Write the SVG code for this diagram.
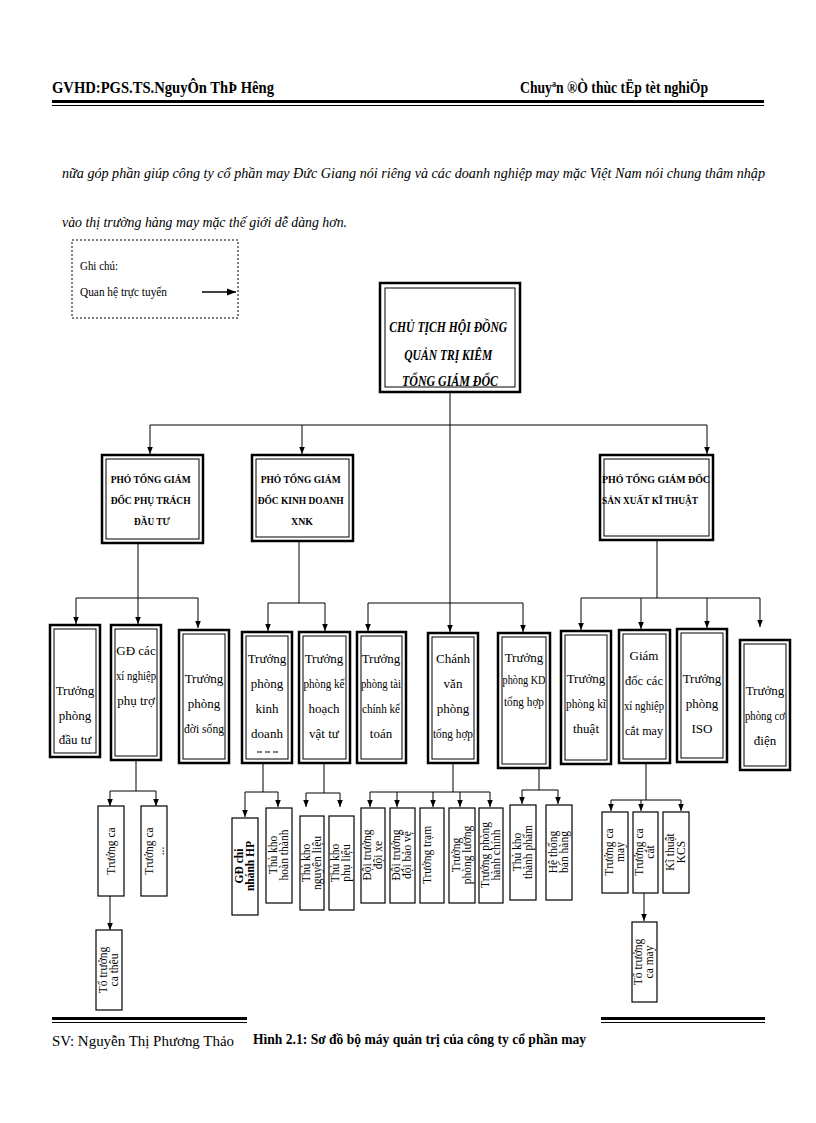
<svg xmlns="http://www.w3.org/2000/svg" width="816" height="1123" viewBox="0 0 816 1123">
<style>
text{font-family:"Liberation Serif","DejaVu Serif",serif;fill:#000}
.o{fill:#fff;stroke:#000;stroke-width:2.5}
.i{fill:none;stroke:#000;stroke-width:1}
.t{fill:#fff;stroke:#000;stroke-width:1.2}
.b3{font-size:13px;text-anchor:middle}
.v{font-size:11.5px;text-anchor:middle}
.c line,.c path{stroke:#000;stroke-width:1;fill:none}
.h{font-weight:bold;font-size:16px}
</style>
<defs>
<marker id="a" viewBox="0 0 10 10" refX="10" refY="5" markerWidth="7" markerHeight="7" orient="auto"><path d="M0,1 L10,5 L0,9 z" fill="#000"/></marker>
</defs>
<!-- header -->
<text x="52" y="93" class="h" textLength="222" lengthAdjust="spacingAndGlyphs">GVHD:PGS.TS.NguyÔn ThÞ Hêng</text>
<text x="520" y="93" class="h" textLength="188" lengthAdjust="spacingAndGlyphs">Chuyªn ®Ò thùc tËp tèt nghiÖp</text>
<rect x="52" y="100" width="712" height="3" fill="#000"/>
<rect x="52" y="105" width="712" height="1" fill="#000"/>
<text x="62" y="178" style="font-family:'Liberation Serif',serif;font-style:italic" font-size="15" textLength="703" lengthAdjust="spacingAndGlyphs">nữa góp phần giúp công ty cổ phần may Đức Giang nói riêng và các doanh nghiệp may mặc Việt Nam nói chung thâm nhập</text>
<text x="62" y="227" style="font-family:'Liberation Serif',serif;font-style:italic" font-size="15" textLength="285" lengthAdjust="spacingAndGlyphs">vào thị trường hàng may mặc thế giới dễ dàng hơn.</text>
<!-- legend -->
<g id="legend">
<rect x="72" y="240" width="166" height="78" fill="none" stroke="#000" stroke-width="1" stroke-dasharray="2,2"/>
<text x="80" y="270" font-size="13" textLength="38" lengthAdjust="spacingAndGlyphs">Ghi chú:</text>
<text x="80" y="296" font-size="13" textLength="87" lengthAdjust="spacingAndGlyphs">Quan hệ trực tuyến</text>
<line x1="202" y1="292" x2="236" y2="292" stroke="#000" stroke-width="1.3" marker-end="url(#a)"/>
</g>
<!-- connectors -->
<g class="c">
<line x1="450" y1="393" x2="450" y2="603"/>
<line x1="150" y1="425" x2="707" y2="425"/>
<line x1="150" y1="425" x2="150" y2="454" marker-end="url(#a)"/>
<line x1="302" y1="425" x2="302" y2="454" marker-end="url(#a)"/>
<line x1="707" y1="425" x2="707" y2="454" marker-end="url(#a)"/>
<line x1="138" y1="543" x2="138" y2="598"/>
<line x1="76" y1="598" x2="198" y2="598"/>
<line x1="76" y1="598" x2="76" y2="624" marker-end="url(#a)"/>
<line x1="138" y1="598" x2="138" y2="624" marker-end="url(#a)"/>
<line x1="198" y1="598" x2="198" y2="628" marker-end="url(#a)"/>
<line x1="299" y1="541" x2="299" y2="603"/>
<line x1="268" y1="603" x2="325" y2="603"/>
<line x1="268" y1="603" x2="268" y2="631" marker-end="url(#a)"/>
<line x1="325" y1="603" x2="325" y2="631" marker-end="url(#a)"/>
<line x1="368" y1="603" x2="523" y2="603"/>
<line x1="368" y1="603" x2="368" y2="631" marker-end="url(#a)"/>
<line x1="450" y1="603" x2="450" y2="632" marker-end="url(#a)"/>
<line x1="523" y1="603" x2="523" y2="632" marker-end="url(#a)"/>
<line x1="657" y1="540" x2="657" y2="598"/>
<line x1="581" y1="598" x2="760" y2="598"/>
<line x1="581" y1="598" x2="581" y2="630" marker-end="url(#a)"/>
<line x1="641" y1="598" x2="641" y2="629" marker-end="url(#a)"/>
<line x1="707" y1="598" x2="707" y2="628" marker-end="url(#a)"/>
<line x1="760" y1="598" x2="760" y2="627" marker-end="url(#a)"/>
<line x1="136" y1="760" x2="136" y2="791"/>
<line x1="110" y1="791" x2="156" y2="791"/>
<line x1="110" y1="791" x2="110" y2="806" marker-end="url(#a)"/>
<line x1="156" y1="791" x2="156" y2="806" marker-end="url(#a)"/>
<line x1="110" y1="896" x2="110" y2="930" marker-end="url(#a)"/>
<line x1="263" y1="763" x2="263" y2="792"/>
<line x1="245" y1="792" x2="278" y2="792"/>
<line x1="245" y1="792" x2="245" y2="817" marker-end="url(#a)"/>
<line x1="278" y1="792" x2="278" y2="807" marker-end="url(#a)"/>
<line x1="324" y1="763" x2="324" y2="793"/>
<line x1="306" y1="793" x2="340" y2="793"/>
<line x1="306" y1="793" x2="306" y2="807" marker-end="url(#a)"/>
<line x1="340" y1="793" x2="340" y2="807" marker-end="url(#a)"/>
<line x1="453" y1="763" x2="453" y2="792"/>
<line x1="370" y1="792" x2="490" y2="792"/>
<line x1="370" y1="792" x2="370" y2="807" marker-end="url(#a)"/>
<line x1="397" y1="792" x2="397" y2="807" marker-end="url(#a)"/>
<line x1="433" y1="792" x2="433" y2="807" marker-end="url(#a)"/>
<line x1="460" y1="792" x2="460" y2="807" marker-end="url(#a)"/>
<line x1="490" y1="792" x2="490" y2="807" marker-end="url(#a)"/>
<line x1="539" y1="768" x2="539" y2="790"/>
<line x1="522" y1="790" x2="558" y2="790"/>
<line x1="522" y1="790" x2="522" y2="804" marker-end="url(#a)"/>
<line x1="558" y1="790" x2="558" y2="804" marker-end="url(#a)"/>
<line x1="646" y1="763" x2="646" y2="800"/>
<line x1="611" y1="800" x2="681" y2="800"/>
<line x1="611" y1="800" x2="611" y2="811" marker-end="url(#a)"/>
<line x1="641" y1="800" x2="641" y2="811" marker-end="url(#a)"/>
<line x1="681" y1="800" x2="681" y2="811" marker-end="url(#a)"/>
<line x1="644" y1="893" x2="644" y2="921" marker-end="url(#a)"/>
</g>
<!-- top node -->
<g id="ceo">
<rect class="o" x="380" y="283" width="140" height="109"/>
<rect class="i" x="385" y="288" width="130" height="99"/>
<text font-style="italic" font-weight="bold" font-size="14" text-anchor="middle">
<tspan x="450" y="332" textLength="118" lengthAdjust="spacingAndGlyphs">CHỦ TỊCH HỘI ĐỒNG</tspan>
<tspan x="450" y="360" textLength="88" lengthAdjust="spacingAndGlyphs">QUẢN TRỊ KIÊM</tspan>
<tspan x="450" y="386" textLength="96" lengthAdjust="spacingAndGlyphs">TỔNG GIÁM ĐỐC</tspan>
</text>
</g>
<!-- level 2 -->
<g id="pho1">
<rect class="o" x="102" y="455" width="101" height="88"/>
<rect class="i" x="106" y="459" width="93" height="80"/>
<text font-weight="bold" font-size="11" text-anchor="middle">
<tspan x="152" y="483" textLength="80" lengthAdjust="spacingAndGlyphs">PHÓ TỔNG GIÁM</tspan>
<tspan x="152" y="504" textLength="80" lengthAdjust="spacingAndGlyphs">ĐỐC PHỤ TRÁCH</tspan>
<tspan x="152" y="525" textLength="36" lengthAdjust="spacingAndGlyphs">ĐẦU TƯ</tspan>
</text>
</g>
<g id="pho2">
<rect class="o" x="252" y="455" width="101" height="86"/>
<rect class="i" x="256" y="459" width="93" height="78"/>
<text font-weight="bold" font-size="11" text-anchor="middle">
<tspan x="302" y="483" textLength="80" lengthAdjust="spacingAndGlyphs">PHÓ TỔNG GIÁM</tspan>
<tspan x="302" y="504" textLength="86" lengthAdjust="spacingAndGlyphs">ĐỐC KINH DOANH</tspan>
<tspan x="302" y="525" textLength="22" lengthAdjust="spacingAndGlyphs">XNK</tspan>
</text>
</g>
<g id="pho3">
<rect class="o" x="600" y="455" width="113" height="85"/>
<rect class="i" x="604" y="459" width="105" height="77"/>
<text font-weight="bold" font-size="11">
<tspan x="602" y="483" textLength="108" lengthAdjust="spacingAndGlyphs">PHÓ TỔNG GIÁM ĐỐC</tspan>
<tspan x="602" y="504" textLength="96" lengthAdjust="spacingAndGlyphs">SẢN XUẤT KĨ THUẬT</tspan>
</text>
</g>
<!-- level 3 -->
<g id="n1"><rect class="o" x="50" y="625" width="50" height="132"/><rect class="i" x="54" y="629" width="42" height="124"/>
<text class="b3"><tspan x="75" y="695">Trưởng</tspan><tspan x="75" y="720">phòng</tspan><tspan x="75" y="744">đầu tư</tspan></text></g>
<g id="n2"><rect class="o" x="111" y="625" width="50" height="135"/><rect class="i" x="115" y="629" width="42" height="127"/>
<text class="b3"><tspan x="136" y="655">GĐ các</tspan><tspan x="136" y="680" textLength="40" lengthAdjust="spacingAndGlyphs">xí nghiệp</tspan><tspan x="136" y="705">phụ trợ</tspan></text></g>
<g id="n3"><rect class="o" x="179" y="630" width="50" height="133"/><rect class="i" x="183" y="634" width="42" height="125"/>
<text class="b3"><tspan x="204" y="683">Trưởng</tspan><tspan x="204" y="708">phòng</tspan><tspan x="204" y="733" textLength="40" lengthAdjust="spacingAndGlyphs">đời sống</tspan></text></g>
<g id="n4"><rect class="o" x="242" y="632" width="50" height="131"/><rect class="i" x="246" y="636" width="42" height="123"/>
<text class="b3"><tspan x="267" y="663">Trưởng</tspan><tspan x="267" y="688">phòng</tspan><tspan x="267" y="713">kinh</tspan><tspan x="267" y="738">doanh</tspan></text>
<line x1="257" y1="752" x2="279" y2="752" stroke="#000" stroke-dasharray="5,3"/></g>
<g id="n5"><rect class="o" x="299" y="632" width="51" height="131"/><rect class="i" x="303" y="636" width="43" height="123"/>
<text class="b3"><tspan x="324" y="663">Trưởng</tspan><tspan x="324" y="688" textLength="41" lengthAdjust="spacingAndGlyphs">phòng kế</tspan><tspan x="324" y="713">hoạch</tspan><tspan x="324" y="738">vật tư</tspan></text></g>
<g id="n6"><rect class="o" x="357" y="632" width="49" height="131"/><rect class="i" x="361" y="636" width="41" height="123"/>
<text class="b3"><tspan x="381" y="663">Trưởng</tspan><tspan x="381" y="688" textLength="40" lengthAdjust="spacingAndGlyphs">phòng tài</tspan><tspan x="381" y="713" textLength="38" lengthAdjust="spacingAndGlyphs">chính kế</tspan><tspan x="381" y="738">toán</tspan></text></g>
<g id="n7"><rect class="o" x="428" y="633" width="50" height="130"/><rect class="i" x="432" y="637" width="42" height="122"/>
<text class="b3"><tspan x="453" y="663">Chánh</tspan><tspan x="453" y="688">văn</tspan><tspan x="453" y="713">phòng</tspan><tspan x="453" y="738" textLength="40" lengthAdjust="spacingAndGlyphs">tổng hợp</tspan></text></g>
<g id="n8"><rect class="o" x="498" y="633" width="52" height="135"/><rect class="i" x="502" y="637" width="44" height="127"/>
<text class="b3"><tspan x="524" y="662">Trưởng</tspan><tspan x="524" y="684" textLength="43" lengthAdjust="spacingAndGlyphs">phòng KD</tspan><tspan x="524" y="706" textLength="40" lengthAdjust="spacingAndGlyphs">tổng hợp</tspan></text></g>
<g id="n9"><rect class="o" x="561" y="631" width="50" height="133"/><rect class="i" x="565" y="635" width="42" height="125"/>
<text class="b3"><tspan x="586" y="683">Trưởng</tspan><tspan x="586" y="708" textLength="40" lengthAdjust="spacingAndGlyphs">phòng kĩ</tspan><tspan x="586" y="733">thuật</tspan></text></g>
<g id="n10"><rect class="o" x="619" y="630" width="51" height="133"/><rect class="i" x="623" y="634" width="43" height="125"/>
<text class="b3"><tspan x="644" y="660">Giám</tspan><tspan x="644" y="685" textLength="38" lengthAdjust="spacingAndGlyphs">đốc các</tspan><tspan x="644" y="710" textLength="40" lengthAdjust="spacingAndGlyphs">xí nghiệp</tspan><tspan x="644" y="735" textLength="38" lengthAdjust="spacingAndGlyphs">cắt may</tspan></text></g>
<g id="n11"><rect class="o" x="677" y="629" width="50" height="133"/><rect class="i" x="681" y="633" width="42" height="125"/>
<text class="b3"><tspan x="702" y="683">Trưởng</tspan><tspan x="702" y="708">phòng</tspan><tspan x="702" y="733">ISO</tspan></text></g>
<g id="n12"><rect class="o" x="740" y="640" width="50" height="130"/><rect class="i" x="744" y="644" width="42" height="122"/>
<text class="b3"><tspan x="765" y="695">Trưởng</tspan><tspan x="765" y="720" textLength="40" lengthAdjust="spacingAndGlyphs">phòng cơ</tspan><tspan x="765" y="745">điện</tspan></text></g>
<!-- level 4 -->
<g id="m1"><rect class="t" x="98" y="806" width="26" height="90"/><text class="v" transform="translate(111,851) rotate(-90)"><tspan x="0" y="4">Trưởng ca</tspan></text></g>
<g id="m2"><rect class="t" x="141" y="806" width="26" height="90"/><text class="v" transform="translate(154,851) rotate(-90)"><tspan x="0" y="-1">Trưởng ca</tspan><tspan x="0" y="10">...</tspan></text></g>
<g id="m3"><rect class="t" x="96" y="930" width="26" height="80"/><text class="v" transform="translate(109,970) rotate(-90)"><tspan x="0" y="-2">Tổ trưởng</tspan><tspan x="0" y="9">ca thêu</tspan></text></g>
<g id="m4"><rect class="t" x="232" y="818" width="26" height="97" stroke-width="2"/><text class="v" font-weight="bold" transform="translate(245,866) rotate(-90)"><tspan x="0" y="-2">GĐ chi</tspan><tspan x="0" y="9">nhánh HP</tspan></text></g>
<g id="m5"><rect class="t" x="266" y="808" width="26" height="95"/><text class="v" transform="translate(279,855) rotate(-90)"><tspan x="0" y="-2">Thủ kho</tspan><tspan x="0" y="9">hoàn thành</tspan></text></g>
<g id="m6"><rect class="t" x="300" y="816" width="24" height="94"/><text class="v" transform="translate(312,863) rotate(-90)"><tspan x="0" y="-2">Thủ kho</tspan><tspan x="0" y="9">nguyên liệu</tspan></text></g>
<g id="m7"><rect class="t" x="329" y="816" width="25" height="94"/><text class="v" transform="translate(341,863) rotate(-90)"><tspan x="0" y="-2">Thủ kho</tspan><tspan x="0" y="9">phụ liệu</tspan></text></g>
<g id="m8"><rect class="t" x="361" y="808" width="24" height="95"/><text class="v" transform="translate(373,855) rotate(-90)"><tspan x="0" y="-2">Đội trưởng</tspan><tspan x="0" y="9">đội xe</tspan></text></g>
<g id="m9"><rect class="t" x="390" y="808" width="25" height="95"/><text class="v" transform="translate(402,855) rotate(-90)"><tspan x="0" y="-2">Đội trưởng</tspan><tspan x="0" y="9">đội bảo vệ</tspan></text></g>
<g id="m10"><rect class="t" x="420" y="808" width="24" height="95"/><text class="v" transform="translate(432,855) rotate(-90)"><tspan x="0" y="-1">Trưởng trạm</tspan></text></g>
<g id="m11"><rect class="t" x="449" y="808" width="26" height="95"/><text class="v" transform="translate(462,855) rotate(-90)"><tspan x="0" y="-2">Trưởng</tspan><tspan x="0" y="9">phòng lương</tspan></text></g>
<g id="m12"><rect class="t" x="479" y="808" width="24" height="95"/><text class="v" transform="translate(491,855) rotate(-90)"><tspan x="0" y="-2">Trưởng phòng</tspan><tspan x="0" y="9">hành chính</tspan></text></g>
<g id="m13"><rect class="t" x="510" y="805" width="26" height="95"/><text class="v" transform="translate(523,852) rotate(-90)"><tspan x="0" y="-2">Thủ kho</tspan><tspan x="0" y="9">thành phẩm</tspan></text></g>
<g id="m14"><rect class="t" x="546" y="805" width="26" height="95"/><text class="v" transform="translate(559,852) rotate(-90)"><tspan x="0" y="-2">Hệ thống</tspan><tspan x="0" y="9">bán hàng</tspan></text></g>
<g id="m15"><rect class="t" x="602" y="812" width="26" height="81"/><text class="v" transform="translate(615,852) rotate(-90)"><tspan x="0" y="-2">Trưởng ca</tspan><tspan x="0" y="9">may</tspan></text></g>
<g id="m16"><rect class="t" x="633" y="812" width="25" height="81"/><text class="v" transform="translate(645,852) rotate(-90)"><tspan x="0" y="-2">Trưởng ca</tspan><tspan x="0" y="9">cắt</tspan></text></g>
<g id="m17"><rect class="t" x="663" y="812" width="26" height="81"/><text class="v" transform="translate(676,852) rotate(-90)"><tspan x="0" y="-2">Kĩ thuật</tspan><tspan x="0" y="9">KCS</tspan></text></g>
<g id="m18"><rect class="t" x="632" y="922" width="25" height="80"/><text class="v" transform="translate(644,962) rotate(-90)"><tspan x="0" y="-2">Tổ trưởng</tspan><tspan x="0" y="9">ca may</tspan></text></g>
<!-- footer -->
<rect x="52" y="1017" width="195" height="3" fill="#000"/>
<rect x="52" y="1022" width="195" height="1" fill="#000"/>
<rect x="601" y="1017" width="164" height="3" fill="#000"/>
<rect x="601" y="1022" width="164" height="1" fill="#000"/>
<text x="52" y="1046" font-size="15" textLength="182" lengthAdjust="spacingAndGlyphs">SV: Nguyễn Thị Phương Thảo</text>
<text x="253" y="1044" font-size="15" font-weight="bold" textLength="333" lengthAdjust="spacingAndGlyphs">Hình 2.1: Sơ đồ bộ máy quản trị của công ty cổ phần may</text>
</svg>
